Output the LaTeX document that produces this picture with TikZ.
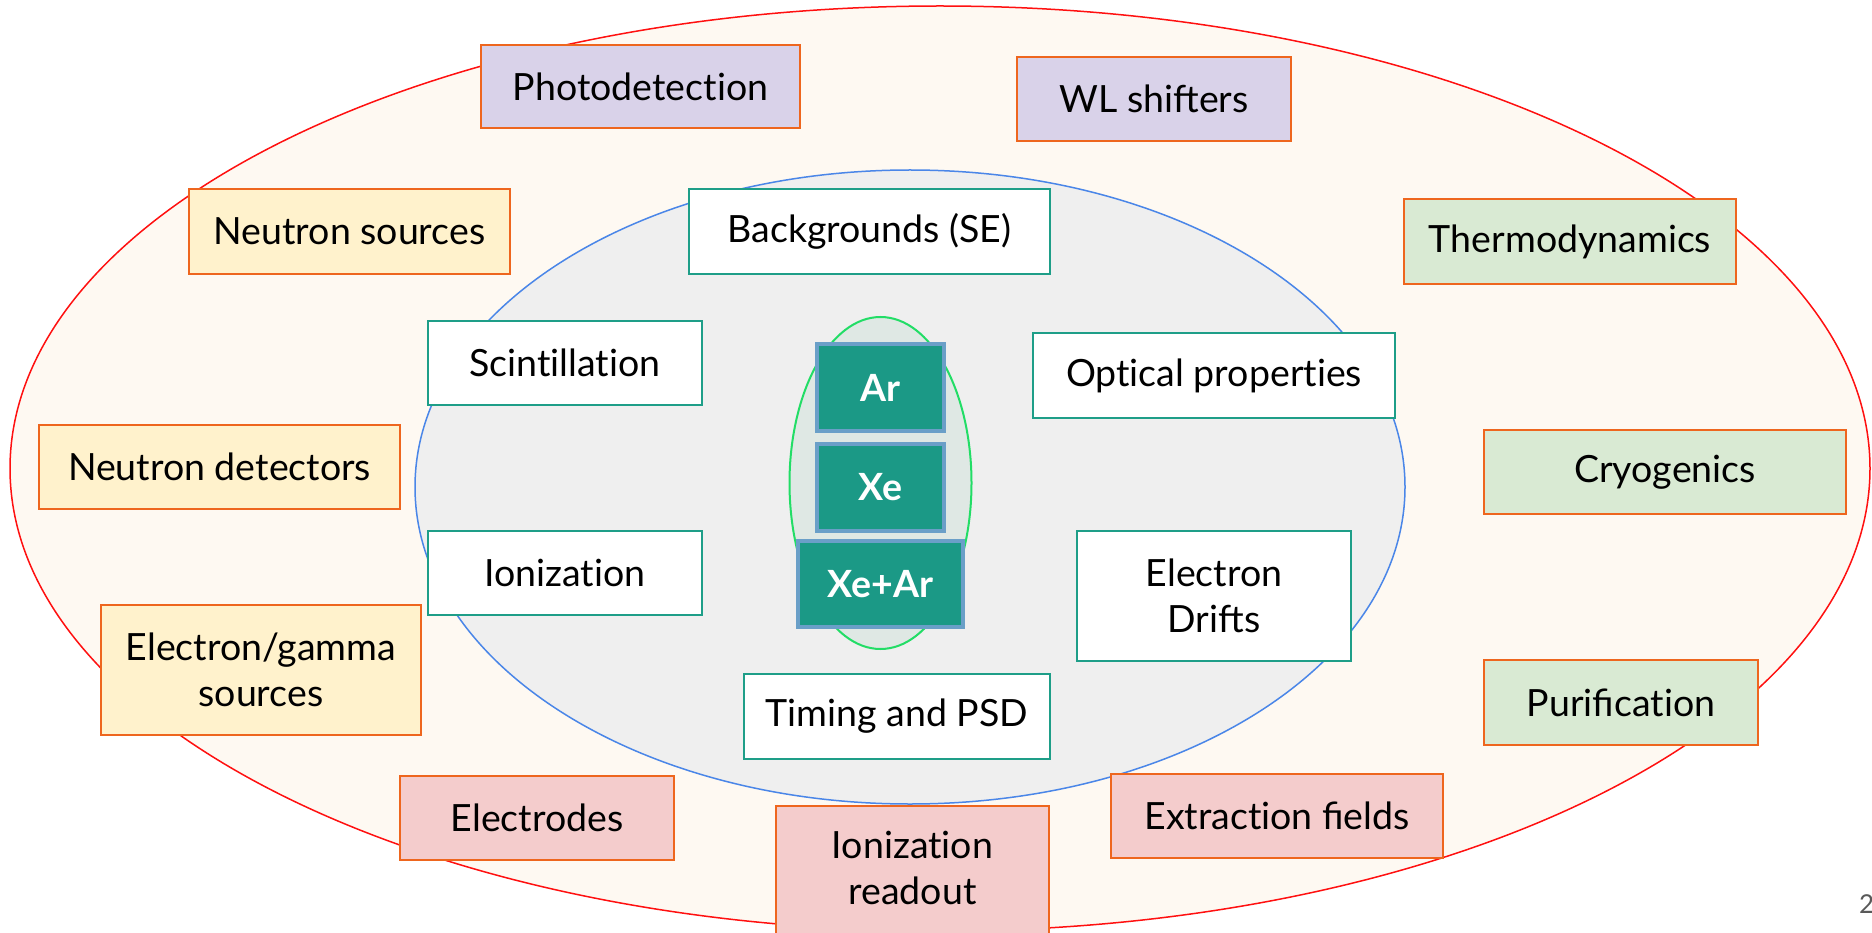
\documentclass[tikz,border=0pt]{standalone}
\usepackage{fontspec}
\setmainfont{Lato}
\newcommand{\tI}{t\kern0pt i}
\definecolor{creamC}{HTML}{FEF9F2}
\definecolor{redC}{HTML}{FF1010}
\definecolor{blueC}{HTML}{4A86E8}
\definecolor{greyC}{HTML}{EFEFEF}
\definecolor{greenC}{HTML}{22DD66}
\definecolor{mintC}{HTML}{DFE8E4}
\definecolor{orangeC}{HTML}{EE661E}
\definecolor{lavC}{HTML}{D9D2E9}
\definecolor{yelC}{HTML}{FFF2CC}
\definecolor{grnC}{HTML}{D9EAD3}
\definecolor{pinkC}{HTML}{F4CCCC}
\definecolor{tealC}{HTML}{1B9986}
\definecolor{tealB}{HTML}{1E9E88}
\definecolor{steelC}{HTML}{6A9FC8}
\definecolor{numC}{HTML}{595959}
\tikzset{
  base/.style={rectangle, inner sep=0pt, align=center, text=black,
    font=\fontsize{37.5}{45.5}\selectfont},
  outerbox/.style={base, draw=orangeC, line width=2pt},
  innerbox/.style={base, draw=tealB, fill=white, line width=2pt},
  gasbox/.style={base, draw=steelC, fill=tealC, line width=3.5pt, text=white,
    font=\fontsize{37.5}{45.5}\selectfont\bfseries},
}
\begin{document}
\begin{tikzpicture}[x=1pt, y=-1pt]
\useasboundingbox (0,0) rectangle (1872,933);
\clip (0,0) rectangle (1872,933);
% ellipses
\draw[fill=creamC, draw=redC, line width=1.5pt] (940,468.5) ellipse [x radius=930, y radius=462.5];
\draw[fill=greyC, draw=blueC, line width=1.5pt] (910,487) ellipse [x radius=495, y radius=317];
\draw[fill=mintC, draw=greenC, line width=2pt] (880.5,483) ellipse [x radius=91, y radius=166];
% outer boxes
\node[outerbox, fill=lavC, minimum width=319, minimum height=83] (photo) at (640.5,86.5) {Photodetec\tI on};
\node[outerbox, fill=lavC, minimum width=274, minimum height=84] (wls) at (1154,99) {WL shifters};
\node[outerbox, fill=yelC, minimum width=321, minimum height=85] (nsrc) at (349.5,231.5) {Neutron sources};
\node[outerbox, fill=grnC, minimum width=332, minimum height=85] (thermo) at (1570,241.5) {Thermodynamics};
\node[outerbox, fill=yelC, minimum width=361, minimum height=84] (ndet) at (219.5,467) {Neutron detectors};
\node[outerbox, fill=grnC, minimum width=362, minimum height=84] (cryo) at (1665,472) {Cryogenics};
\node[outerbox, fill=yelC, minimum width=320, minimum height=130] (egs) at (261,670) {Electron/gamma\\sources};
\node[outerbox, fill=grnC, minimum width=274, minimum height=85] (puri) at (1621,702.5) {Purifica\tI on};
\node[outerbox, fill=pinkC, minimum width=274, minimum height=84] (elec) at (537,818) {Electrodes};
\node[outerbox, fill=pinkC, minimum width=332, minimum height=84] (extr) at (1277,816) {Extrac\tI on fields};
\node[outerbox, fill=pinkC, minimum width=273, minimum height=140] (irbox) at (912.5,876) {};
\node[base] (irtext) at (912.5,868) {Ioniza\tI on\\readout};
% inner boxes
\node[innerbox, minimum width=361, minimum height=85] (bkg) at (869.5,231.5) {Backgrounds (SE)};
\node[innerbox, minimum width=274, minimum height=84] (scint) at (565,363) {Scin\tI lla\tI on};
\node[innerbox, minimum width=362, minimum height=85] (optic) at (1214,375.5) {Op\tI cal proper\tI es};
\node[innerbox, minimum width=274, minimum height=84] (ioniz) at (565,573) {Ioniza\tI on};
\node[innerbox, minimum width=274, minimum height=130] (drift) at (1214,596) {Electron\\Drifts};
\node[innerbox, minimum width=306, minimum height=85] (timing) at (897,716.5) {Timing and PSD};
% gas boxes
\node[gasbox, minimum width=127, minimum height=87] (ar) at (880.5,387.5) {Ar};
\node[gasbox, minimum width=127, minimum height=87] (xe) at (880.5,487.5) {Xe};
\node[gasbox, minimum width=165, minimum height=86] (xear) at (880.5,584) {Xe+Ar};
% page number
\node[anchor=west, inner sep=0pt, text=numC, font=\fontsize{26}{30}\selectfont] (pnum) at (1859,904) {2};
\end{tikzpicture}
\end{document}
